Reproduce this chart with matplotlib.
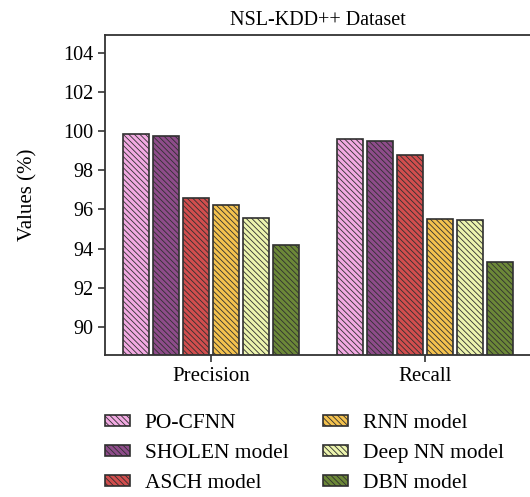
import matplotlib
matplotlib.use("Agg")
import matplotlib.pyplot as plt
import numpy as np

# 데이터
categories = ["Precision", "Recall"]
models = ["PO-CFNN", "SHOLEN model", "ASCH model", "RNN model", "Deep NN model", "DBN model"]
po_cfnn = [99.87, 99.58]
sholen = [99.75, 99.47]
asch = [96.58, 98.80]
rnn = [96.23, 95.51]
deep_nn = [95.56, 95.46]
dbn = [94.20, 93.32]
yticks = [90, 92, 94, 96, 98, 100, 102, 104]

series = [po_cfnn, sholen, asch, rnn, deep_nn, dbn]
colors = ["#f2aae2", "#8e4c8a", "#d24e4e", "#f4c24e", "#ecf4ae", "#6c8838"]

plt.rcParams['font.family'] = ['Liberation Serif', 'DejaVu Serif']
plt.rcParams['hatch.linewidth'] = 0.6

fig = plt.figure(figsize=(5.3, 4.97), dpi=100)
ax = fig.add_axes([0.198, 0.286, 0.802, 0.644])

x = np.arange(len(categories))
width = 0.1215
pitch = 0.14
bars = []
for i, (vals, c) in enumerate(zip(series, colors)):
    b = ax.bar(x + (i - 2.5) * pitch, vals, width, color=c, edgecolor="#303030",
               linewidth=1.2, hatch="\\" * 6, label=models[i])
    bars.append(b)

ax.set_ylim(88.57, 104.92)
ax.set_xlim(-0.495, 1.49)
ax.set_yticks(yticks)
ax.set_xticks(x)
ax.set_xticklabels(categories)
ax.tick_params(axis='both', labelsize=15, length=5, width=1.2, color="#333333")
ax.tick_params(axis='y', labelsize=14.5)
ax.set_ylabel("Values (%)", fontsize=15, labelpad=18)
ax.set_title("NSL-KDD++ Dataset", fontsize=14.5, pad=7)
for s in ["left", "top", "bottom"]:
    ax.spines[s].set_linewidth(1.3)
    ax.spines[s].set_color("#333333")
ax.spines["right"].set_visible(False)

# 범례 두 열을 따로 배치
leg_kw = dict(loc="upper left", frameon=False, fontsize=15.5, handlelength=1.15,
              handleheight=0.4, labelspacing=0.5, handletextpad=0.7,
              borderpad=0, borderaxespad=0)
leg1 = fig.legend(bars[:3], models[:3], bbox_to_anchor=(0.198, 0.166), **leg_kw)
leg2 = fig.legend(bars[3:], models[3:], bbox_to_anchor=(0.609, 0.166), **leg_kw)

plt.savefig("out.png", dpi=100)
plt.close()
